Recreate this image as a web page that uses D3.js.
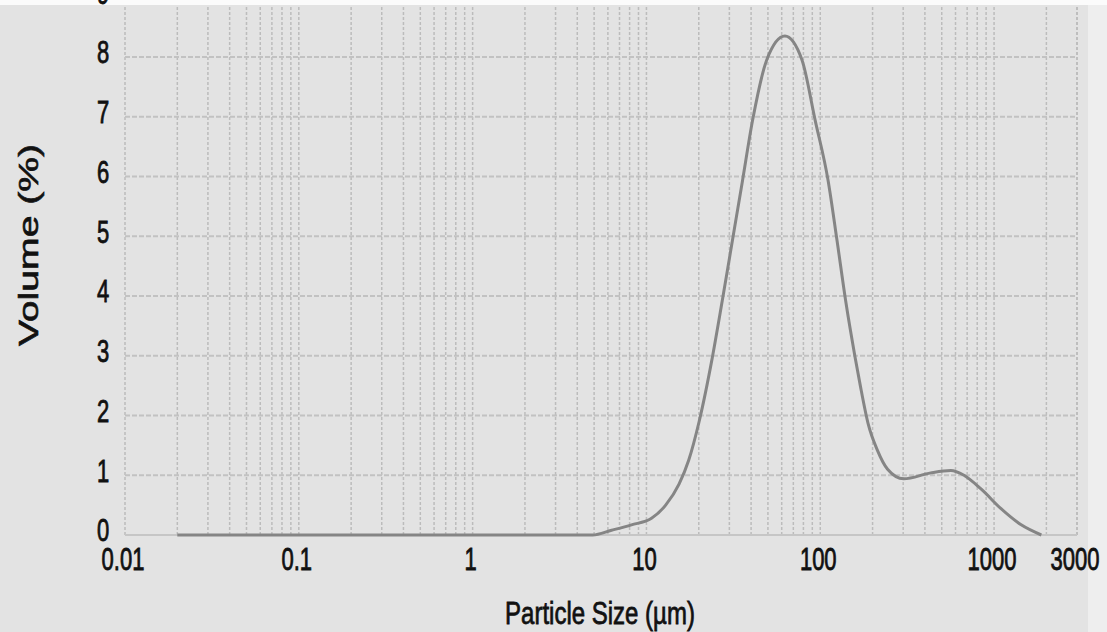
<!DOCTYPE html>
<html>
<head>
<meta charset="utf-8">
<script src="https://cdn.jsdelivr.net/npm/d3@7"></script>
<style>
  body { margin: 0; background: #fff; }
  svg { display: block; }
  text { font-family: "Liberation Sans", Arial, sans-serif; fill: #111; stroke: #111; stroke-width: 0.6px; }
</style>
</head>
<body>
<div id="chart"></div>
<script>
// particle size distribution
var sizes   = [0.02, 0.05, 0.1, 0.5, 1, 2, 4.9, 6.3, 8.2, 10.7, 12.9, 15.4, 17.5, 20.1, 23.9, 27.3, 31.2, 35.7, 40.8, 49.2, 62.6, 78.5, 93.5, 111, 125, 140, 159, 170, 189, 213, 244, 302, 432, 564, 671, 841, 1097, 1432, 1871];
var volumes = [0, 0, 0, 0, 0, 0, 0, 0.08, 0.17, 0.28, 0.5, 0.85, 1.25, 1.9, 2.96, 3.92, 4.92, 5.93, 6.94, 7.95, 8.35, 7.95, 6.94, 5.93, 4.92, 3.92, 2.96, 2.5, 1.85, 1.42, 1.1, 0.94, 1.04, 1.08, 1.0, 0.77, 0.44, 0.17, 0];

var xTickValues = [0.01, 0.1, 1, 10, 100, 1000, 3000];
var xTickLabels = ["0.01", "0.1", "1", "10", "100", "1000", "3000"];
var yTickValues = [0, 1, 2, 3, 4, 5, 6, 7, 8, 9];

var width = 1107, height = 632;

var x = d3.scaleLog().domain([0.01, 3000]).range([125, 1077]);
var y = d3.scaleLinear().domain([0, 9]).range([535, -2.75]);
var yTop = 8.87;

var svg = d3.select("#chart").append("svg")
    .attr("width", width)
    .attr("height", height);

svg.append("rect")
   .attr("width", width).attr("height", height)
   .attr("fill", "#e3e3e3");
svg.append("rect")
   .attr("width", width).attr("height", y(yTop))
   .attr("fill", "#fbfbfb");
svg.append("rect")
   .attr("x", 1088).attr("y", y(yTop))
   .attr("width", width - 1088).attr("height", height)
   .attr("fill", "#eeeeee");

// vertical grid on every log tick
svg.append("g")
   .selectAll("line")
   .data(x.ticks().filter(d => d <= 3000).concat([3000]))
   .enter().append("line")
   .attr("x1", d => x(d)).attr("x2", d => x(d))
   .attr("y1", y(0)).attr("y2", y(yTop))
   .attr("stroke", "#bcbcbc")
   .attr("stroke-width", 1.5)
   .attr("stroke-dasharray", "3,2");

// horizontal grid
svg.append("g")
   .selectAll("line")
   .data(yTickValues.filter(d => d > 0 && d < yTop))
   .enter().append("line")
   .attr("x1", x(0.01)).attr("x2", x(3000))
   .attr("y1", d => y(d)).attr("y2", d => y(d))
   .attr("stroke", "#c2c2c2")
   .attr("stroke-width", 2)
   .attr("stroke-dasharray", "5,2");

// baseline
svg.append("line")
   .attr("x1", x(0.01)).attr("x2", x(3000))
   .attr("y1", y(0)).attr("y2", y(0))
   .attr("stroke", "#c6c6c6")
   .attr("stroke-width", 2);

var data = sizes.map((s, i) => ({size: s, vol: volumes[i]}));

var line = d3.line()
    .x(d => x(d.size))
    .y(d => y(d.vol))
    .curve(d3.curveMonotoneX);

svg.append("path")
   .datum(data)
   .attr("d", line)
   .attr("fill", "none")
   .attr("stroke", "#858585")
   .attr("stroke-width", 3);

// scan is stretched vertically, so text is too
function label(px, py, txt, size, stretch, rot) {
  svg.append("text")
     .attr("transform", "translate(" + px + "," + py + ") scale(1," + stretch + ")" + (rot ? " rotate(-90)" : ""))
     .attr("text-anchor", "middle")
     .attr("dominant-baseline", "central")
     .style("font-size", size + "px")
     .text(txt);
}

xTickValues.forEach((v, i) => label(x(v) - 2, 560, xTickLabels[i], 22, 1.4));
yTickValues.forEach(v => label(103, y(v) - 4, String(v), 22, 1.4));

label(600, 613, "Particle Size (\u00b5m)", 24, 1.3);
label(29, 245, "Volume (%)", 27, 1.45, true);
</script>
</body>
</html>
